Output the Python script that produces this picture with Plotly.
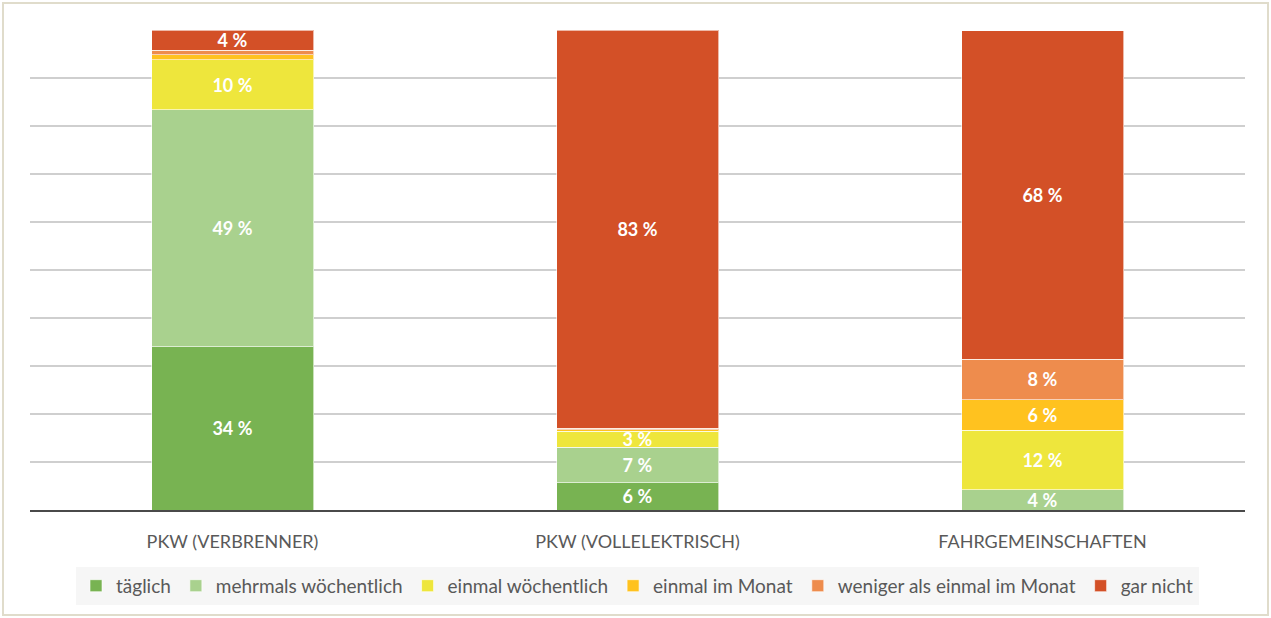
import plotly.graph_objects as go

categories = ["PKW (VERBRENNER)", "PKW (VOLLELEKTRISCH)", "FAHRGEMEINSCHAFTEN"]
series_names = ["täglich", "mehrmals wöchentlich", "einmal wöchentlich",
                "einmal im Monat", "weniger als einmal im Monat", "gar nicht"]
taeglich = [34.0, 5.7, 0.0]
mehrmals = [49.4, 7.4, 4.2]
einmal_woche = [10.4, 3.3, 12.4]
einmal_monat = [1.0, 0.3, 6.4]
weniger = [1.0, 0.3, 8.4]
gar_nicht = [4.2, 83.0, 68.4]
colors = ["#78B352", "#A9D18E", "#EEE63C", "#FFC21F", "#EE8C4D", "#D35027"]

series = [taeglich, mehrmals, einmal_woche, einmal_monat, weniger, gar_nicht]

FONT = "Lato"
fig = go.Figure()
for name, vals, col in zip(series_names, series, colors):
    labels = [f"{int(v + 0.5)} %" if v >= 2 else "" for v in vals]
    fig.add_trace(go.Bar(
        name=name, x=categories, y=vals,
        marker=dict(color=col, line=dict(color="rgba(255,255,255,0.6)", width=1)),
        text=labels, textposition="inside", insidetextanchor="middle",
        textfont=dict(color="white", size=18, family=FONT, weight="bold"),
        textangle=0, constraintext="none",
        hoverinfo="name+y",
    ))

fig.update_layout(
    barmode="stack", bargap=0.6,
    width=1271, height=618,
    margin=dict(l=30, r=26, t=30, b=108),
    paper_bgcolor="white", plot_bgcolor="white",
    font=dict(family=FONT, color="#595959"),
    uniformtext=dict(minsize=8, mode="show"),
    xaxis=dict(showgrid=False, showline=True, linecolor="#4a4a4a", linewidth=2,
               ticks="", ticklabelstandoff=14,
               tickfont=dict(size=18, color="#595959", family=FONT)),
    yaxis=dict(range=[0, 100], dtick=10, showticklabels=False, showgrid=True,
               gridcolor="#CFCFCF", gridwidth=1.5, zeroline=False),
    legend=dict(orientation="h", x=0.5, xanchor="center", y=-0.158, yanchor="middle",
                bgcolor="#F6F6F6", font=dict(size=19, color="#595959", family=FONT),
                traceorder="normal", itemwidth=30, tracegroupgap=0),
    shapes=[dict(type="rect", xref="paper", yref="paper",
                 x0=(3 - 30) / 1215, x1=(1268 - 30) / 1215,
                 y0=(510 - 615) / 480, y1=(510 - 3) / 480,
                 line=dict(color="#E0DCCB", width=2), fillcolor="rgba(0,0,0,0)", layer="below")],
)

fig.write_html("out.html")
